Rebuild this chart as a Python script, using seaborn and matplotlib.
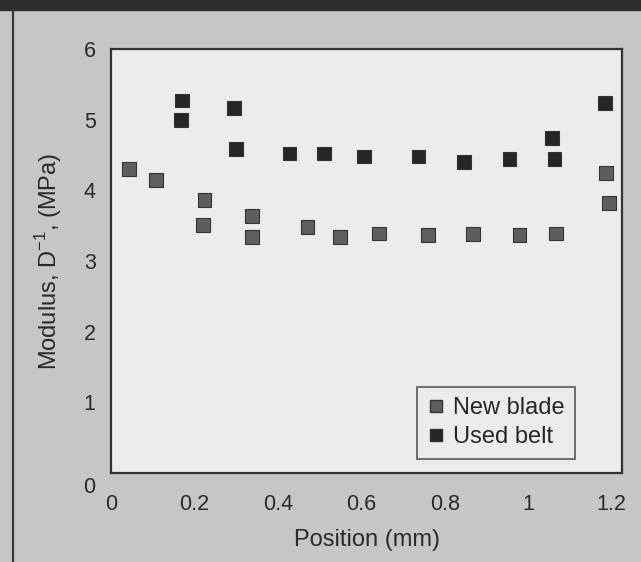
import pandas as pd
import seaborn as sns
import matplotlib.pyplot as plt
import matplotlib.transforms as mtransforms
from matplotlib.patches import Rectangle
from matplotlib.lines import Line2D

# Modulus vs position
new_x = [0.043, 0.108, 0.224, 0.221, 0.338, 0.338, 0.471, 0.549, 0.643,
         0.759, 0.867, 0.979, 1.066, 1.187, 1.193]
new_y = [4.30, 4.15, 3.86, 3.51, 3.64, 3.34, 3.48, 3.34, 3.39,
         3.37, 3.38, 3.37, 3.39, 4.25, 3.82]
used_x = [0.170, 0.168, 0.294, 0.299, 0.428, 0.511, 0.607, 0.737, 0.847,
          0.955, 1.057, 1.063, 1.185]
used_y = [5.27, 5.00, 5.16, 4.58, 4.52, 4.52, 4.48, 4.48, 4.40,
          4.44, 4.74, 4.44, 5.24]
series = ["New blade", "Used belt"]
x_ticks = [0, 0.2, 0.4, 0.6, 0.8, 1, 1.2]
x_labels = ["0", "0.2", "0.4", "0.6", "0.8", "1", "1.2"]
y_ticks = [0, 1, 2, 3, 4, 5, 6]

df = pd.concat([
    pd.DataFrame({"pos": new_x, "mod": new_y, "sample": series[0]}),
    pd.DataFrame({"pos": used_x, "mod": used_y, "sample": series[1]}),
])

sns.set_style("white")
plt.rcParams["font.family"] = ["Liberation Sans", "DejaVu Sans"]

fig = plt.figure(figsize=(6.41, 5.62), dpi=100, facecolor="#c6c6c6")
ax = fig.add_axes([0.1732, 0.1584, 0.7972, 0.7544])
ax.set_facecolor("#ececec")

# scan look: dark band on top, dark rule on the left
fig.patches.append(Rectangle((0, 0.983), 1, 0.017, transform=fig.transFigure,
                             color="#2e2e2e", zorder=0))
fig.lines.append(Line2D([0.02, 0.02], [0, 0.983], transform=fig.transFigure,
                        color="#3a3a3a", lw=1.6))

palette = {"New blade": "#5e5e5e", "Used belt": "#262626"}
sns.scatterplot(data=df, x="pos", y="mod", hue="sample", palette=palette,
                marker="s", s=98, edgecolor="#333333", linewidth=0.8,
                ax=ax, legend=False, zorder=3)

ax.set_xlim(0, 1.225)
ax.set_ylim(0, 6)
ax.set_xticks(x_ticks)
ax.set_xticklabels(x_labels)
ax.set_yticks(y_ticks)
ax.tick_params(axis="both", length=0, labelsize=15.5, colors="#2a2a2a")
ax.tick_params(axis="x", pad=15)
ax.tick_params(axis="y", pad=11)
for sp in ax.spines.values():
    sp.set_linewidth(1.6)
    sp.set_color("#333333")

# the zero on the y axis sits a little below the corner in the original
fig.canvas.draw()
ylab0 = ax.get_yticklabels()[0]
ylab0.set_transform(ylab0.get_transform() +
                    mtransforms.ScaledTranslation(0, -9 / 72, fig.dpi_scale_trans))

ax.set_xlabel("Position (mm)", fontsize=17, color="#2a2a2a", labelpad=10)
ax.set_ylabel("Modulus, D$^{\\mathregular{-1}}$, (MPa)", fontsize=17,
              color="#2a2a2a", labelpad=14)

handles = [Line2D([], [], ls="", marker="s", markersize=8,
                  markerfacecolor=palette[s], markeredgecolor="#333333")
           for s in series]
leg = ax.legend(handles, series, loc="lower right",
                bbox_to_anchor=(0.908, 0.033), fontsize=17,
                frameon=True, fancybox=False, handletextpad=0.35,
                handlelength=0.7, borderpad=0.45, labelspacing=0.3,
                borderaxespad=0)
leg.get_frame().set_edgecolor("#333333")
leg.get_frame().set_linewidth(1.2)
leg.get_frame().set_facecolor("#ececec")

plt.savefig("out.png", dpi=100, facecolor=fig.get_facecolor())
plt.close()
